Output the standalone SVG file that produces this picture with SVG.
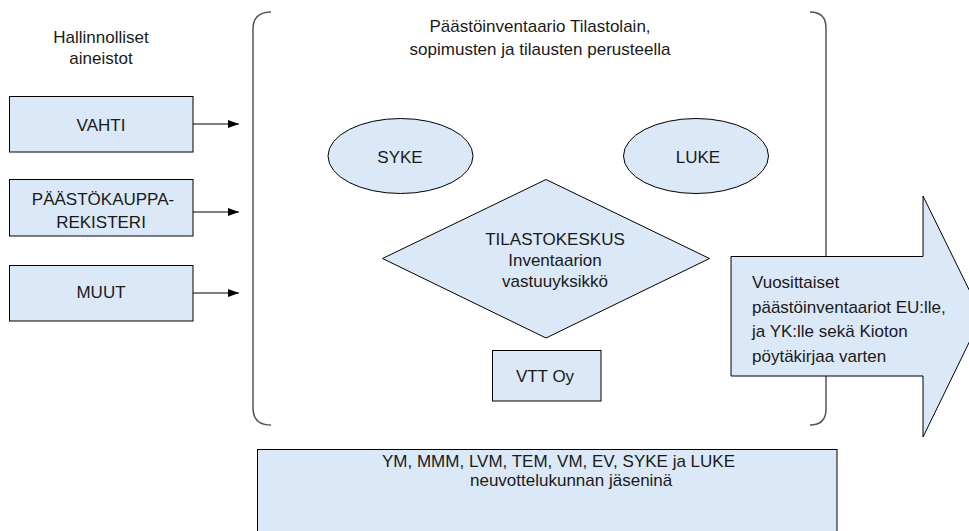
<svg xmlns="http://www.w3.org/2000/svg" width="969" height="531" viewBox="0 0 969 531">
  <defs>
    <marker id="arr" viewBox="0 0 11 8" refX="11" refY="4" markerWidth="11" markerHeight="8" markerUnits="userSpaceOnUse" orient="auto">
      <path d="M0,0 L11,4 L0,8 Z" fill="#000"/>
    </marker>
    <style>
      text { font-family: "Liberation Sans", Arial, sans-serif; font-size: 17px; fill: #1a1a1a; }
      .c { text-anchor: middle; }
      .shape { fill: #dbe8f7; stroke: #000; stroke-width: 1; }
      .brk { fill: none; stroke: #555; stroke-width: 1.5; }
      .conn { stroke: #000; stroke-width: 1; fill: none; }
    </style>
  </defs>
  <rect width="969" height="531" fill="#fff"/>

  <g id="label-hallinnolliset">
    <text class="c" x="101" y="43">Hallinnolliset</text>
    <text class="c" x="101" y="64">aineistot</text>
  </g>

  <g id="frame">
    <path class="brk" d="M271,12 Q253,12 253,29 L253,408 Q253,425 271,425"/>
    <path class="brk" d="M810,12 Q826,12 826,28 L826,409 Q826,425 810,425"/>
    <text class="c" x="540" y="32">Päästöinventaario Tilastolain,</text>
    <text class="c" x="540" y="55">sopimusten ja tilausten perusteella</text>
  </g>

  <g id="vahti">
    <rect class="shape" x="9.5" y="96.5" width="183.5" height="55.5"/>
    <text class="c" x="101" y="131">VAHTI</text>
  </g>
  <g id="paastokauppa">
    <rect class="shape" x="9.5" y="179.5" width="183.5" height="56.5"/>
    <text class="c" x="103" y="205">PÄÄSTÖKAUPPA-</text>
    <text class="c" x="101" y="228">REKISTERI</text>
  </g>
  <g id="muut">
    <rect class="shape" x="9.5" y="265.5" width="183.5" height="55.5"/>
    <text class="c" x="101" y="298">MUUT</text>
  </g>

  <g id="syke">
    <ellipse class="shape" cx="400.5" cy="156" rx="72.5" ry="37.5"/>
    <text class="c" x="400" y="163">SYKE</text>
  </g>
  <g id="luke">
    <ellipse class="shape" cx="696" cy="156" rx="72.5" ry="37.5"/>
    <text class="c" x="698" y="163">LUKE</text>
  </g>

  <g id="tilastokeskus">
    <polygon class="shape" points="382.5,258.5 546,179.5 709.5,258.5 546,338"/>
    <text class="c" x="555" y="245">TILASTOKESKUS</text>
    <text class="c" x="555" y="266">Inventaarion</text>
    <text class="c" x="555" y="287">vastuuyksikkö</text>
  </g>

  <g id="vtt">
    <rect class="shape" x="492.5" y="350.5" width="108.5" height="50.5"/>
    <text class="c" x="545" y="382">VTT Oy</text>
  </g>

  <g id="output-arrow">
    <polygon class="shape" points="731,256.5 923,256.5 923,196 982,316 923,437 923,376 731,376"/>
    <text x="752" y="288">Vuosittaiset</text>
    <text x="752" y="313">päästöinventaariot EU:lle,</text>
    <text x="752" y="337">ja YK:lle sekä Kioton</text>
    <text x="752" y="362">pöytäkirjaa varten</text>
  </g>

  <g id="neuvottelukunta">
    <rect class="shape" x="257.5" y="449.5" width="579.5" height="95"/>
    <text x="382" y="467">YM, MMM, LVM, TEM, VM, EV, SYKE ja LUKE</text>
    <text x="470" y="486">neuvottelukunnan jäseninä</text>
  </g>

  <g id="connectors">
    <line class="conn" x1="193" y1="124" x2="239" y2="124" marker-end="url(#arr)"/>
    <line class="conn" x1="193" y1="212" x2="239" y2="212" marker-end="url(#arr)"/>
    <line class="conn" x1="193" y1="293" x2="239" y2="293" marker-end="url(#arr)"/>
  </g>
</svg>
